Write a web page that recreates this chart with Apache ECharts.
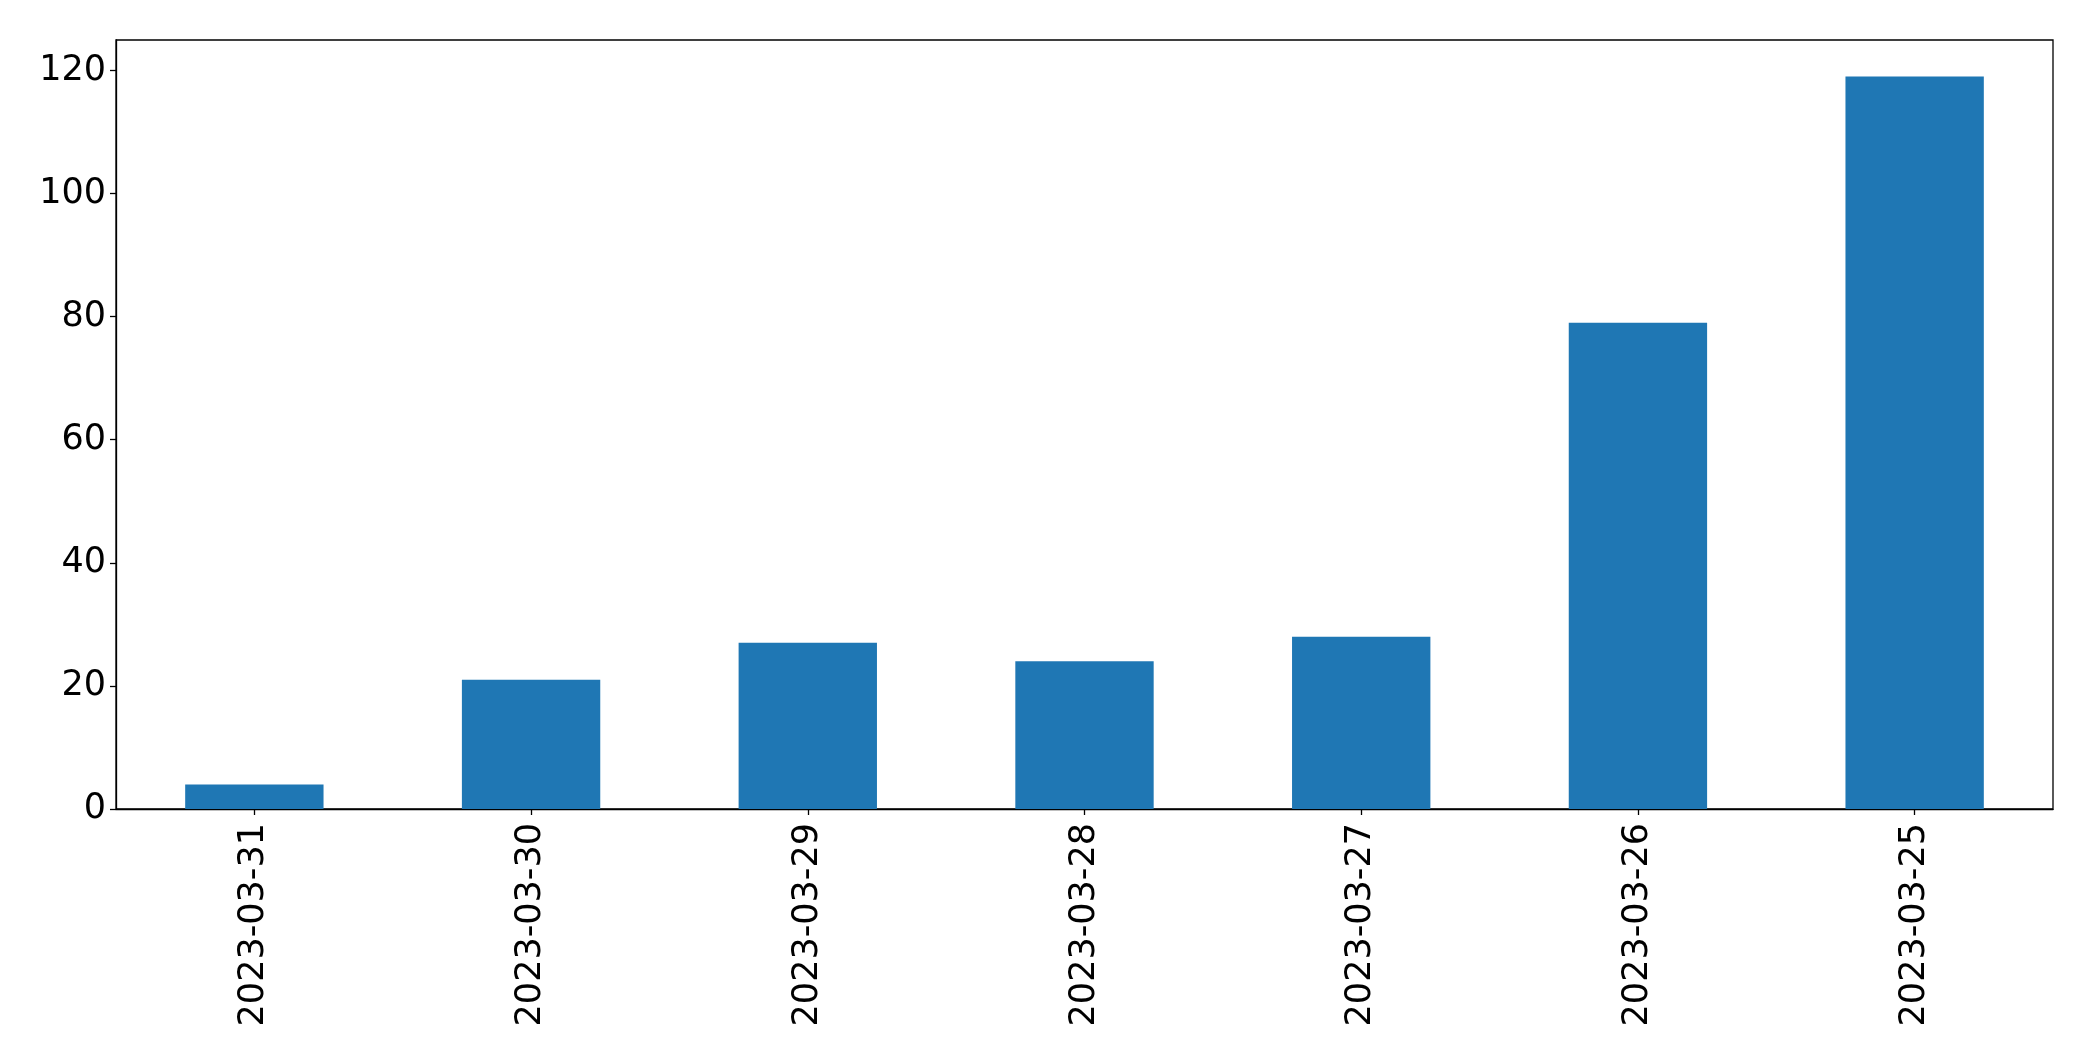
<!DOCTYPE html>
<html>
<head>
<meta charset="utf-8">
<script src="https://cdn.jsdelivr.net/npm/echarts@6/dist/echarts.min.js"></script>
<style>html,body{margin:0;padding:0;background:#fff;}#c{width:2093px;height:1061px;}</style>
</head>
<body>
<div id="c"></div>
<script>
const categories = ['2023-03-31','2023-03-30','2023-03-29','2023-03-28','2023-03-27','2023-03-26','2023-03-25'];
const values = [4, 21, 27, 24, 28, 79, 119];
const yTicks = [0, 20, 40, 60, 80, 100, 120];

const chart = echarts.init(document.getElementById('c'), null, {renderer: 'canvas'});
const font = 'DejaVu Sans';
chart.setOption({
  backgroundColor: '#ffffff',
  animation: false,
  grid: {left: 116, right: 40, top: 40, bottom: 252, show: true, borderColor: '#000', borderWidth: 1.3, backgroundColor: 'transparent'},
  xAxis: {
    type: 'category',
    data: categories,
    axisLine: {show: true, lineStyle: {color: '#000', width: 1.3}},
    axisTick: {show: true, alignWithLabel: true, length: 6, lineStyle: {color: '#000', width: 1.3}},
    axisLabel: {rotate: 90, margin: 14, fontFamily: font, fontSize: 35, color: '#000', interval: 0},
    splitLine: {show: false}
  },
  yAxis: {
    type: 'value',
    min: 0,
    max: 124.95,
    interval: 20,
    axisLine: {show: true, lineStyle: {color: '#000', width: 1.3}},
    axisTick: {show: true, length: 6, customValues: yTicks, lineStyle: {color: '#000', width: 1.3}},
    axisLabel: {margin: 10, fontFamily: font, fontSize: 35, color: '#000', customValues: yTicks},
    splitLine: {show: false}
  },
  series: [{
    type: 'bar',
    data: values,
    barWidth: '50%',
    itemStyle: {color: '#1f77b4'}
  }]
});
</script>
</body>
</html>
